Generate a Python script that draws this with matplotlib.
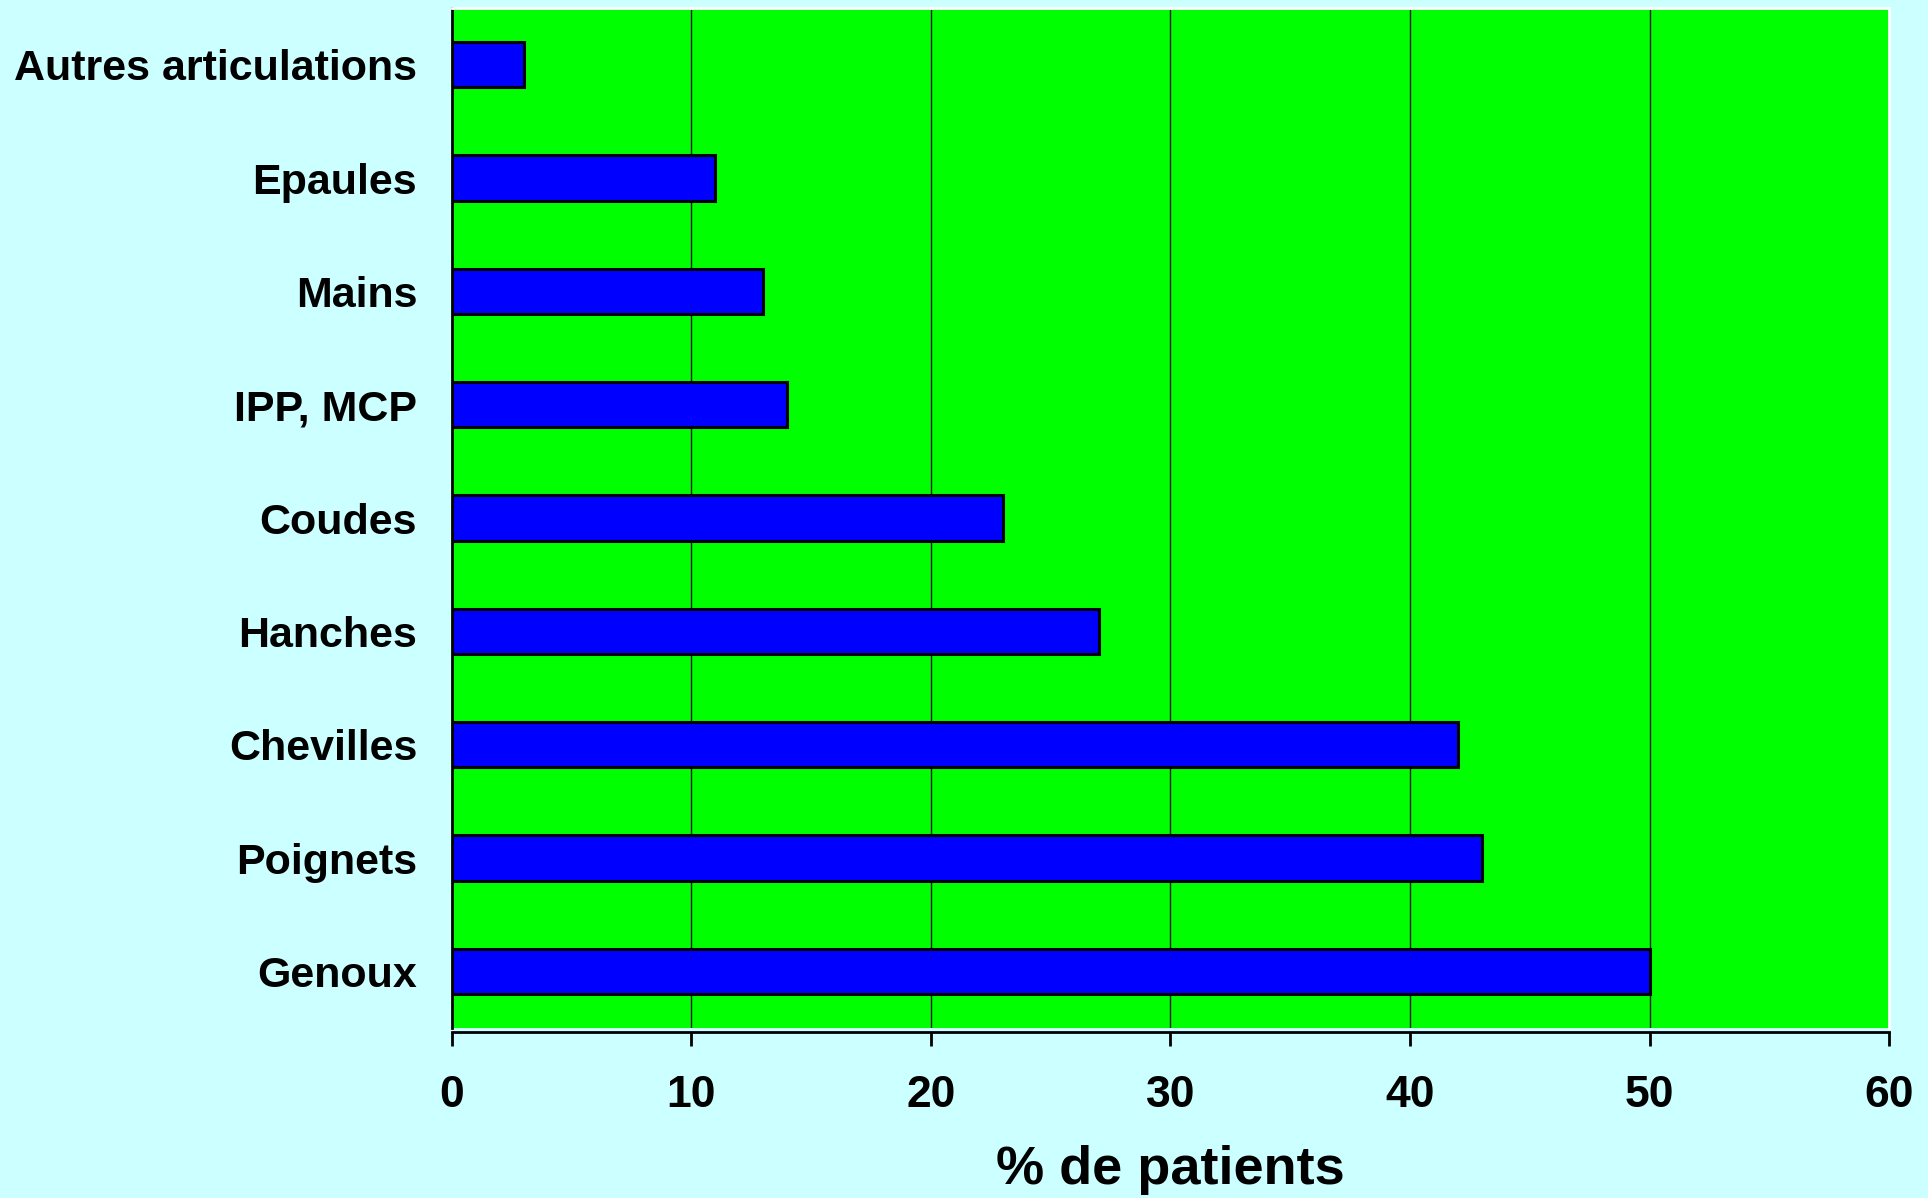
import matplotlib.pyplot as plt
import numpy as np

categories = [
    "Autres articulations",
    "Epaules",
    "Mains",
    "IPP, MCP",
    "Coudes",
    "Hanches",
    "Chevilles",
    "Poignets",
    "Genoux",
]
values = [3, 11, 13, 14, 23, 27, 42, 43, 50]
xticks = [0, 10, 20, 30, 40, 50, 60]

plt.rcParams["font.family"] = ["Liberation Sans", "DejaVu Sans"]

fig = plt.figure(figsize=(19.28, 11.98), dpi=100, facecolor="#ccffff")
ax = fig.add_axes([0.2344, 0.1419, 0.9798 - 0.2344, 0.9933 - 0.1419])
ax.set_facecolor("#00ff00")

# spine position first: moving a spine resets its axis ticks
ax.spines["bottom"].set_position(("outward", 3))
ax.spines["left"].set_linewidth(2)
ax.spines["bottom"].set_linewidth(2)
ax.spines["top"].set_color("white")
ax.spines["right"].set_color("white")
ax.spines["top"].set_linewidth(2)
ax.spines["right"].set_linewidth(2)

y = np.arange(len(categories))
ax.barh(y, values, height=0.4, color="#0000ff", edgecolor="black", linewidth=2.2, zorder=3)

ax.set_xlim(0, 60)
ax.set_ylim(len(categories) - 0.5, -0.5)
ax.set_xticks(xticks)
ax.set_xticklabels([str(t) for t in xticks], fontsize=32, fontweight="bold")
ax.set_yticks(y)
ax.set_yticklabels(categories, fontsize=31, fontweight="bold")

for t in xticks[1:-1]:
    ax.axvline(t, color="#1a1a1a", linewidth=1.0, zorder=1)

ax.tick_params(axis="y", length=0, pad=25)
ax.tick_params(axis="x", direction="out", length=10, width=2, pad=21, color="black")

ax.set_xlabel("% de patients", fontsize=39, fontweight="bold", labelpad=21)

fig.savefig("out.png", dpi=100, facecolor=fig.get_facecolor())
plt.close(fig)
